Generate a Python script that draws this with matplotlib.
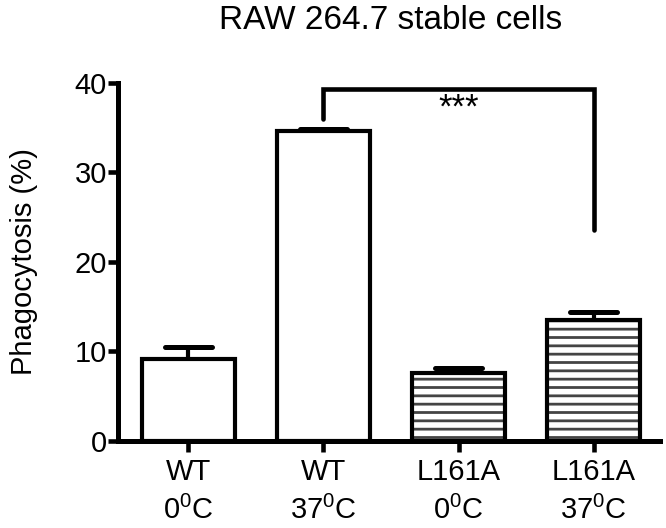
import matplotlib
matplotlib.use("Agg")
import matplotlib.pyplot as plt
import numpy as np

plt.rcParams['font.family'] = ['Liberation Sans', 'DejaVu Sans']
plt.rcParams['mathtext.fontset'] = 'custom'
plt.rcParams['mathtext.rm'] = 'Liberation Sans'
plt.rcParams['hatch.linewidth'] = 2.0

categories = ["WT\n0$\\mathregular{^0}$C", "WT\n37$\\mathregular{^0}$C",
              "L161A\n0$\\mathregular{^0}$C", "L161A\n37$\\mathregular{^0}$C"]
values = [9.1, 34.6, 7.6, 13.5]
errors = [1.4, 0.3, 0.5, 0.9]
hatched = [False, False, True, True]
yticks = [0, 10, 20, 30, 40]
title = "RAW 264.7 stable cells"
ylabel = "Phagocytosis (%)"
sig_text = "***"
sig_pair = (1, 3)
sig_top = 39.3
sig_left_bottom = 36.0
sig_right_bottom = 23.6

fig = plt.figure(figsize=(6.66, 5.28), dpi=100)
ax = fig.add_axes([0.177, 0.165, 0.814, 0.678])

x = np.arange(len(values))
lw = 3.0
bw = 0.69
for i in range(len(values)):
    if hatched[i]:
        ax.bar(x[i], values[i], width=bw, facecolor='white', edgecolor='#444444',
               linewidth=0, hatch='--', zorder=2)
        ax.bar(x[i], values[i], width=bw, facecolor='none', edgecolor='black',
               linewidth=lw, zorder=2.5)
    else:
        ax.bar(x[i], values[i], width=bw, facecolor='white', edgecolor='black',
               linewidth=lw, zorder=2)
for i in range(len(values)):
    ax.plot([x[i], x[i]], [values[i], values[i] + errors[i]], color='black', lw=lw,
            solid_capstyle='butt', zorder=3)
    ax.plot([x[i] - 0.175, x[i] + 0.175], [values[i] + errors[i]] * 2, color='black',
            lw=lw * 1.2, solid_capstyle='round', zorder=3)

# significance bracket
a, b = sig_pair
ax.plot([x[a], x[a], x[b], x[b]], [sig_left_bottom, sig_top, sig_top, sig_right_bottom],
        color='black', lw=3.3, solid_joinstyle='miter', solid_capstyle='round', clip_on=False, zorder=4)
ax.text((x[a] + x[b]) / 2, 37.2, sig_text, ha='center', va='center', fontsize=25)

ax.set_xlim(-0.52, 3.49)
ax.set_ylim(0, 40)
ax.set_yticks(yticks)
ax.set_xticks(x)
ax.set_xticklabels(categories, fontsize=21, linespacing=1.45)
ax.tick_params(axis='y', labelsize=21, length=7, width=3.3, direction='out', pad=1)
ax.tick_params(axis='x', length=8, width=3.3, direction='out', pad=4)
for s in ['top', 'right']:
    ax.spines[s].set_visible(False)
for s in ['left', 'bottom']:
    ax.spines[s].set_linewidth(3.6)
ax.set_ylabel(ylabel, fontsize=21, labelpad=26)
fig.text(0.587, 0.962, title, ha='center', va='center', fontsize=24)

fig.savefig("out.png", dpi=100)
